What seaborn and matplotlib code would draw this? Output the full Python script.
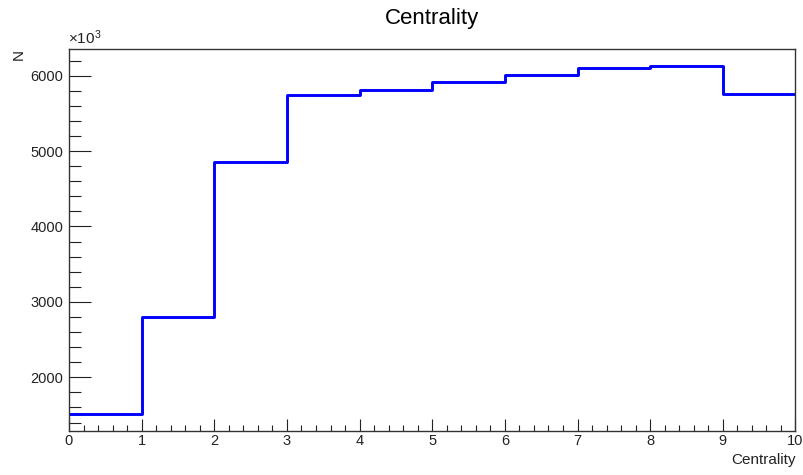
import numpy as np
import pandas as pd
import seaborn as sns
import matplotlib
matplotlib.use("Agg")
import matplotlib.pyplot as plt
from matplotlib.ticker import MultipleLocator

# Centrality histogram: bin edges and counts (in units of 10^3)
bin_edges = [0, 1, 2, 3, 4, 5, 6, 7, 8, 9, 10]
counts = [1518, 2797, 4851, 5749, 5816, 5918, 6011, 6100, 6130, 5753]

sns.set_theme(style="white")
plt.rcParams["font.family"] = ["Liberation Sans", "DejaVu Sans"]
plt.rcParams["mathtext.fontset"] = "custom"
plt.rcParams["mathtext.rm"] = "Liberation Sans"
plt.rcParams["mathtext.it"] = "Liberation Sans"

centers = [(a + b) / 2 for a, b in zip(bin_edges[:-1], bin_edges[1:])]
df = pd.DataFrame({"Centrality": centers, "N": counts})

fig = plt.figure(figsize=(8.04, 4.75), dpi=100)
ax = fig.add_axes([69 / 804, 1 - 431 / 475, 726.5 / 804, (431 - 48.5) / 475])

sns.histplot(data=df, x="Centrality", weights="N", bins=bin_edges,
             element="step", fill=False, color="#0000ff", linewidth=2.1, ax=ax)

lo, hi = min(counts), max(counts)
margin = 0.05 * (hi - lo)
ax.set_xlim(0, 10)
ax.set_ylim(lo - margin, hi + margin)

ax.xaxis.set_major_locator(MultipleLocator(1))
ax.xaxis.set_minor_locator(MultipleLocator(0.2))
ax.yaxis.set_major_locator(MultipleLocator(1000))
ax.yaxis.set_minor_locator(MultipleLocator(200))

tick_col = "#222222"
ax.tick_params(axis="x", which="major", direction="in", length=8.6, width=0.8,
               color=tick_col, labelsize=10.5, labelcolor=tick_col, pad=2.5,
               bottom=True, top=False)
ax.tick_params(axis="x", which="minor", direction="in", length=4.3, width=0.8,
               color=tick_col, bottom=True, top=False)
ax.tick_params(axis="y", which="major", direction="in", length=16, width=0.8,
               color=tick_col, labelsize=10.5, labelcolor=tick_col, pad=4,
               left=True, right=False)
ax.tick_params(axis="y", which="minor", direction="in", length=8.6, width=0.8,
               color=tick_col, left=True, right=False)

for s in ax.spines.values():
    s.set_visible(True)
    s.set_color("#333333")
    s.set_linewidth(1.0)

ax.set_title("Centrality", fontsize=16, color="black", pad=17.5)

ax.set_xlabel("Centrality", fontsize=11, color=tick_col, ha="right")
ax.xaxis.set_label_coords(1.0, -0.058)
ax.set_ylabel("N", fontsize=11, color=tick_col, ha="right")
ax.yaxis.set_label_coords(-0.069, 1.0)
ax.yaxis.label.set_va("center")

ax.text(-0.002, 1.003, r"$\times10^{3}$", transform=ax.transAxes,
        fontsize=11, color=tick_col, ha="left", va="bottom")

fig.savefig("out.png", dpi=100, facecolor="white")
